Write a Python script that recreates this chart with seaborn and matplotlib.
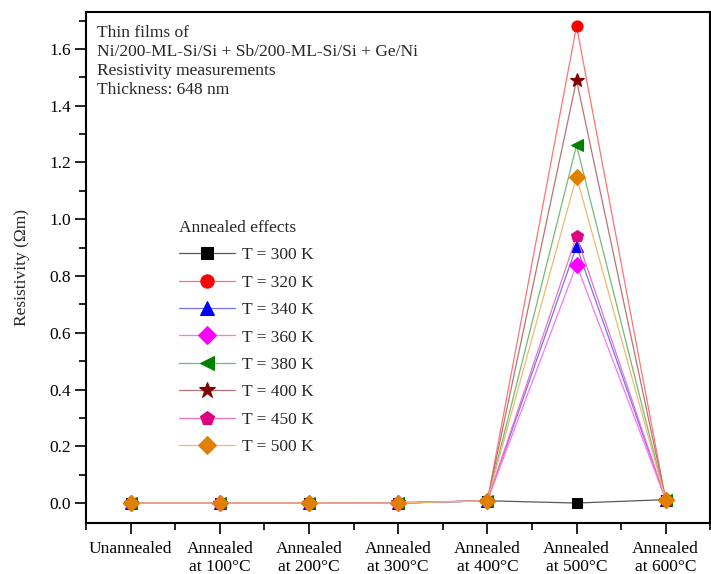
import numpy as np
import pandas as pd
import matplotlib.pyplot as plt
import seaborn as sns
from matplotlib.ticker import MultipleLocator
from matplotlib.colors import to_rgb

sns.set_theme(style="ticks")
plt.rcParams['font.family'] = ['Liberation Serif', 'DejaVu Serif']
plt.rcParams['font.size'] = 12.5

# data
categories = ['Unannealed', 'Annealed\nat 100°C', 'Annealed\nat 200°C', 'Annealed\nat 300°C',
              'Annealed\nat 400°C', 'Annealed\nat 500°C', 'Annealed\nat 600°C']
temps = ['T = 300 K', 'T = 320 K', 'T = 340 K', 'T = 360 K',
         'T = 380 K', 'T = 400 K', 'T = 450 K', 'T = 500 K']
r300 = [0.0, 0.0, 0.0, 0.0, 0.008, 0.0, 0.012]
r320 = [0.0, 0.0, 0.0, 0.0, 0.008, 1.68, 0.012]
r340 = [0.0, 0.0, 0.0, 0.0, 0.008, 0.905, 0.012]
r360 = [0.0, 0.0, 0.0, 0.0, 0.008, 0.84, 0.012]
r380 = [0.0, 0.0, 0.0, 0.0, 0.008, 1.26, 0.012]
r400 = [0.0, 0.0, 0.0, 0.002, 0.008, 1.49, 0.012]
r450 = [0.0, 0.0, 0.0, 0.0, 0.008, 0.94, 0.012]
r500 = [0.0, 0.0, 0.0, 0.0, 0.008, 1.15, 0.012]
series = [r300, r320, r340, r360, r380, r400, r450, r500]

colors = ['#000000', '#ff0000', '#0000ff', '#ff00ff', '#008000', '#800000', '#e0007f', '#e07f00']
markers = ['s', 'o', '^', 'D', '<', '*', 'p', 'D']
msizes = [7.5, 8, 8.5, 8, 8.5, 10, 9, 8]


def lighten(c, f):
    r, g, b = to_rgb(c)
    return (r + (1 - r) * f, g + (1 - g) * f, b + (1 - b) * f)


fig, ax = plt.subplots(figsize=(7.11, 5.74), dpi=100)
x = np.arange(len(categories))

for lab, vals, c, m, ms in zip(temps, series, colors, markers, msizes):
    lc = lighten(c, 0.35) if c == '#000000' else lighten(c, 0.45)
    sns.lineplot(x=x, y=vals, ax=ax, color=lc, marker=m, markersize=ms,
                 markerfacecolor=c, markeredgecolor=c, linewidth=0.9, label=lab)

ax.set_xlim(-0.5, 6.5)
ax.set_ylim(-0.07, 1.73)
ax.set_xticks(x)
ax.set_xticklabels(categories, linespacing=1.15)
ax.xaxis.set_minor_locator(MultipleLocator(0.5))
ax.yaxis.set_major_locator(MultipleLocator(0.2))
ax.yaxis.set_minor_locator(MultipleLocator(0.1))
ax.yaxis.set_major_formatter(plt.FuncFormatter(lambda v, p: f'{v:.1f}'))
ax.tick_params(which='major', direction='out', length=8, width=1.2, colors='black',
               labelsize=12.5, pad=3)
ax.tick_params(axis='x', which='major', pad=5)
ax.tick_params(which='minor', direction='out', length=5, width=1.2, colors='black')
ax.set_ylabel('Resistivity (Ωm)', fontsize=12.5, labelpad=14)
ax.set_xlabel('')
for s in ax.spines.values():
    s.set_linewidth(1.5)
    s.set_color('black')

ax.text(0.018, 0.975,
        'Thin films of\nNi/200-ML-Si/Si + Sb/200-ML-Si/Si + Ge/Ni\nResistivity measurements\nThickness: 648 nm',
        transform=ax.transAxes, ha='left', va='top', fontsize=12.5, linespacing=1.25)

leg = ax.legend(title='Annealed effects', loc='upper left', bbox_to_anchor=(0.138, 0.607),
                frameon=False, fontsize=12.5, title_fontsize=12.5, handlelength=3.2,
                handletextpad=0.4, labelspacing=0.65, borderaxespad=0, markerscale=1.2)
leg._legend_box.align = 'left'

fig.subplots_adjust(left=0.121, right=0.999, top=0.979, bottom=0.089)
fig.savefig('out.png', dpi=100)
